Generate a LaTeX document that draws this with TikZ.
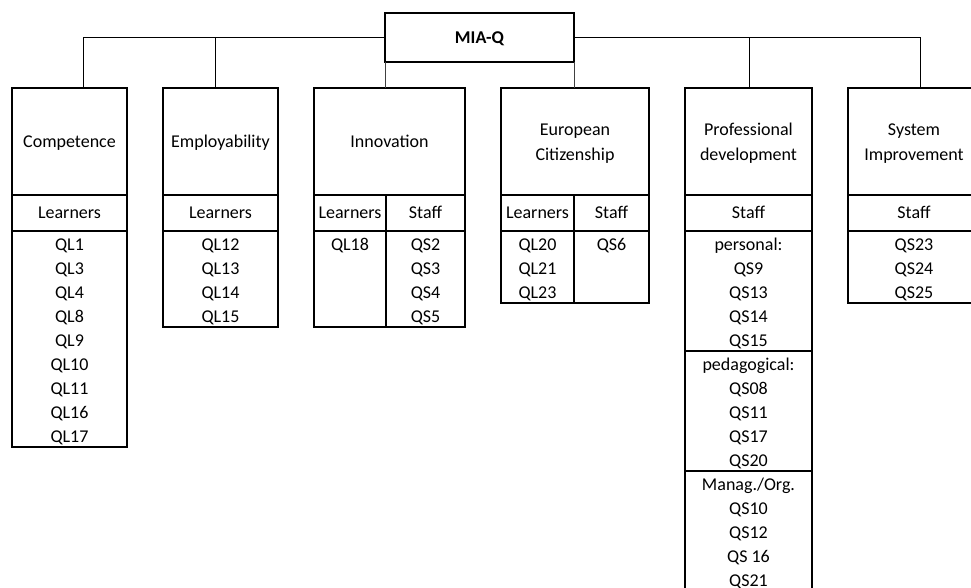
\documentclass[tikz,border=0pt]{standalone}
\usepackage{fontspec}
\setmainfont{Carlito}
\tikzset{
  box/.style={draw, line width=1.2pt, anchor=north west, inner sep=0pt, outer sep=0pt},
  lbl/.style={anchor=base, inner sep=0pt, font=\fontsize{18}{24}\selectfont},
  bus/.style={line width=1pt},
  stem/.style={line width=0.6pt, draw=black!75},
  topbox/.style={draw, line width=2.5pt, inner sep=0pt, outer sep=0pt},
}
\newcommand\cell[5]{\node[box, minimum width=#4pt, minimum height=#5pt] (#1) at (#2,#3) {};}
\newcommand\items[4]{\foreach \t [count=\i from 0] in {#4} {\node[lbl] (#1\i) at ({#2},{#3+24*\i}) {\t};}}
\begin{document}
\begin{tikzpicture}[x=1pt,y=-1pt]
\useasboundingbox (0,0) rectangle (971,588);
\clip (0,0) rectangle (971,588);
% top node
\node[topbox, minimum width=189pt, minimum height=49pt] (mia) at (479.5,37.5) {};
\node[lbl, font=\fontsize{18}{24}\selectfont\bfseries] (miat) at (479.5,44) {MIA-Q};
% headers
\cell{compH}{12}{88}{115}{107}
\cell{empH}{163}{88}{115}{107}
\cell{innH}{314}{88}{151}{107}
\cell{eurH}{501}{88}{148}{107}
\cell{proH}{685}{88}{127}{107}
\cell{sysH}{848}{88}{132}{107}
% sub headers
\cell{compS}{12}{195}{115}{36}
\cell{empS}{163}{195}{115}{36}
\cell{innSL}{314}{195}{72}{36}
\cell{innSS}{386}{195}{79}{36}
\cell{eurSL}{501}{195}{73}{36}
\cell{eurSS}{574}{195}{75}{36}
\cell{proS}{685}{195}{127}{36}
\cell{sysS}{848}{195}{132}{36}
% lists
\cell{compL}{12}{231}{115}{216}
\cell{empL}{163}{231}{115}{96}
\cell{innLL}{314}{231}{72}{96}
\cell{innLS}{386}{231}{79}{96}
\cell{eurLL}{501}{231}{73}{72}
\cell{eurLS}{574}{231}{75}{72}
\cell{proLa}{685}{231}{127}{120}
\cell{proLb}{685}{351}{127}{120}
\cell{proLc}{685}{471}{127}{120}
\cell{sysL}{848}{231}{132}{72}
% header texts
\node[lbl] (tcomp) at (69.5,147.3) {Competence};
\node[lbl] (temp) at (220.5,147.3) {Employability};
\node[lbl] (tinn) at (389.5,147.3) {Innovation};
\node[lbl] (teur1) at (575,135.8) {European};
\node[lbl] (teur2) at (575,160.5) {Citizenship};
\node[lbl] (tpro1) at (748.5,135.8) {Professional};
\node[lbl] (tpro2) at (748.5,160.5) {development};
\node[lbl] (tsys1) at (914,135.8) {System};
\node[lbl] (tsys2) at (914,160.5) {Improvement};
% sub header texts
\node[lbl] (scomp) at (69.5,218.8) {Learners};
\node[lbl] (semp) at (220.5,218.8) {Learners};
\node[lbl] (sinnL) at (350,218.8) {Learners};
\node[lbl] (sinnS) at (425.5,218.8) {Staff};
\node[lbl] (seurL) at (537.5,218.8) {Learners};
\node[lbl] (seurS) at (611.5,218.8) {Staff};
\node[lbl] (spro) at (748.5,218.8) {Staff};
\node[lbl] (ssys) at (914,218.8) {Staff};
% items
\items{ic}{69.5}{250}{QL1,QL3,QL4,QL8,QL9,QL10,QL11,QL16,QL17}
\items{ie}{220.5}{250}{QL12,QL13,QL14,QL15}
\items{iil}{350}{250}{QL18}
\items{iis}{425.5}{250}{QS2,QS3,QS4,QS5}
\items{iel}{537.5}{250}{QL20,QL21,QL23}
\items{ies}{611.5}{250}{QS6}
\items{ip}{748.5}{250}{personal:,QS9,QS13,QS14,QS15,pedagogical:,QS08,QS11,QS17,QS20,Manag./Org.,QS10,QS12,QS 16,QS21}
\items{isy}{914}{250}{QS23,QS24,QS25}
% connectors
\coordinate (b1) at (83,37.5);
\coordinate (b2) at (215,37.5);
\coordinate (b3) at (749,37.5);
\coordinate (b4) at (920,37.5);
\draw[bus] (mia.west) -- (b1) -- (b1 |- compH.north);
\draw[bus] (b2) -- (b2 |- empH.north);
\draw[bus] (mia.east) -- (b4) -- (b4 |- sysH.north);
\draw[bus] (b3) -- (b3 |- proH.north);
\draw[stem] (mia.south west) -- (mia.south west |- innH.north);
\draw[stem] (mia.south east) -- (mia.south east |- eurH.north);
\end{tikzpicture}
\end{document}
